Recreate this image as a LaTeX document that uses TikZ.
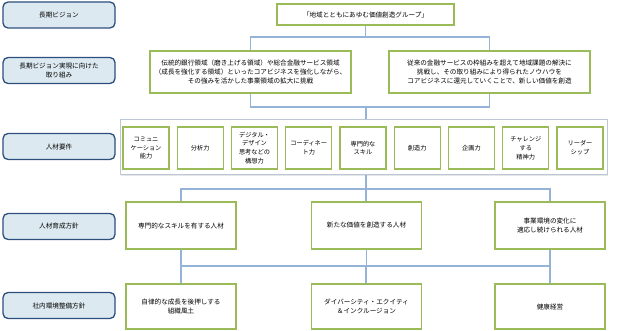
\documentclass[tikz,border=0pt]{standalone}
\usepackage{fontspec}
\setmainfont{Noto Sans CJK JP}
\usepackage{tikz}
\usepackage{xcolor}
\usetikzlibrary{arrows.meta,shapes,shadows}
\definecolor{lblfill}{HTML}{DCE9F0}
\definecolor{lbldraw}{HTML}{2C4F7C}
\definecolor{grn}{HTML}{9BBB59}
\definecolor{lnk}{HTML}{95B3D7}
\definecolor{cont}{HTML}{BCC8D6}

\begin{document}
\begin{tikzpicture}[x=1pt,y=-1pt,
lbl/.style={draw=lbldraw,line width=1.3pt,fill=lblfill,rounded corners=5pt,minimum width=112pt,minimum height=26pt,align=center,font=\fontsize{6.6}{9.2}\selectfont},
gbox/.style={draw=grn,line width=1.1pt,fill=white,align=center,inner sep=1pt,font=\fontsize{6.6}{9.4}\selectfont},
rq/.style={gbox,minimum width=46pt,minimum height=42pt,font=\fontsize{6.2}{8.8}\selectfont},
link/.style={draw=lnk,line width=1.1pt}]
\useasboundingbox (0,0) rectangle (623,331);
\node[lbl](l1) at (59,15){長期ビジョン};
\node[lbl](l2) at (59,70.5){長期ビジョン実現に向けた\\取り組み};
\node[lbl](l3) at (59,146.5){人材要件};
\node[lbl](l4) at (59,226.5){人材育成方針};
\node[lbl](l5) at (59,305.5){社内環境整備方針};
\node[gbox,minimum width=177pt,minimum height=21pt](vis) at (365.5,14.5){「地域とともにあゆむ価値創造グループ」};
\node[gbox,minimum width=201pt,minimum height=42pt](s1) at (250.5,72){伝統的銀行領域（磨き上げる領域）や総合金融サービス領域\\（成長を強化する領域）といったコアビジネスを強化しながら、\\その強みを活かした事業領域の拡大に挑戦};
\node[gbox,minimum width=201pt,minimum height=42pt](s2) at (489.5,72){従来の金融サービスの枠組みを超えて地域課題の解決に\\挑戦し、その取り組みにより得られたノウハウを\\コアビジネスに還元していくことで、新しい価値を創造};
\node[draw=cont,line width=1pt,fill=white,minimum width=487pt,minimum height=55pt,drop shadow={opacity=0.2,shadow xshift=1pt,shadow yshift=-1pt}](req) at (363.5,147.5){};
\foreach \t [count=\i] in {{コミュニ\\ケーション\\能力},{分析力},{デジタル・\\デザイン\\思考などの\\構想力},{コーディネー\\ト力},{専門的な\\スキル},{創造力},{企画力},{チャレンジ\\する\\精神力},{リーダー\\シップ}}
\node[rq](r\i) at ({146+(\i-1)*54.25},148){\t};
\node[gbox,minimum width=110pt,minimum height=47pt](p1) at (181,225.5){専門的なスキルを有する人材};
\node[gbox,minimum width=110pt,minimum height=47pt](p2) at (366.5,225.5){新たな価値を創造する人材};
\node[gbox,minimum width=110pt,minimum height=47pt](p3) at (550,225.5){事業環境の変化に\\適応し続けられる人材};
\node[gbox,minimum width=110pt,minimum height=45pt](e1) at (181,306.5){自律的な成長を後押しする\\組織風土};
\node[gbox,minimum width=110pt,minimum height=45pt](e2) at (366.5,306.5){ダイバーシティ・エクイティ\\＆インクルージョン};
\node[gbox,minimum width=110pt,minimum height=45pt](e3) at (550,306.5){健康経営};
\coordinate (b1) at (366,37);
\coordinate (b2) at (366,107);
\coordinate (b3) at (366,189);
\coordinate (b4) at (366,266);
\draw[link](vis.south)--(vis.south|-b1);
\draw[link](s1.north)|-(b1)-|(s2.north);
\draw[link](s1.south)|-(b2)-|(s2.south);
\draw[link](b2)--(b2|-req.north);
\draw[link](b2|-req.south)--(b3);
\draw[link](p1.north)|-(b3)-|(p3.north);
\draw[link](b3)--(b3|-p2.north);
\draw[link](p1.south)|-(b4)-|(p3.south);
\draw[link](p2.south)--(p2.south|-b4);
\draw[link](e1.north)|-(b4)-|(e3.north);
\draw[link](b4)--(b4|-e2.north);
\end{tikzpicture}
\end{document}
